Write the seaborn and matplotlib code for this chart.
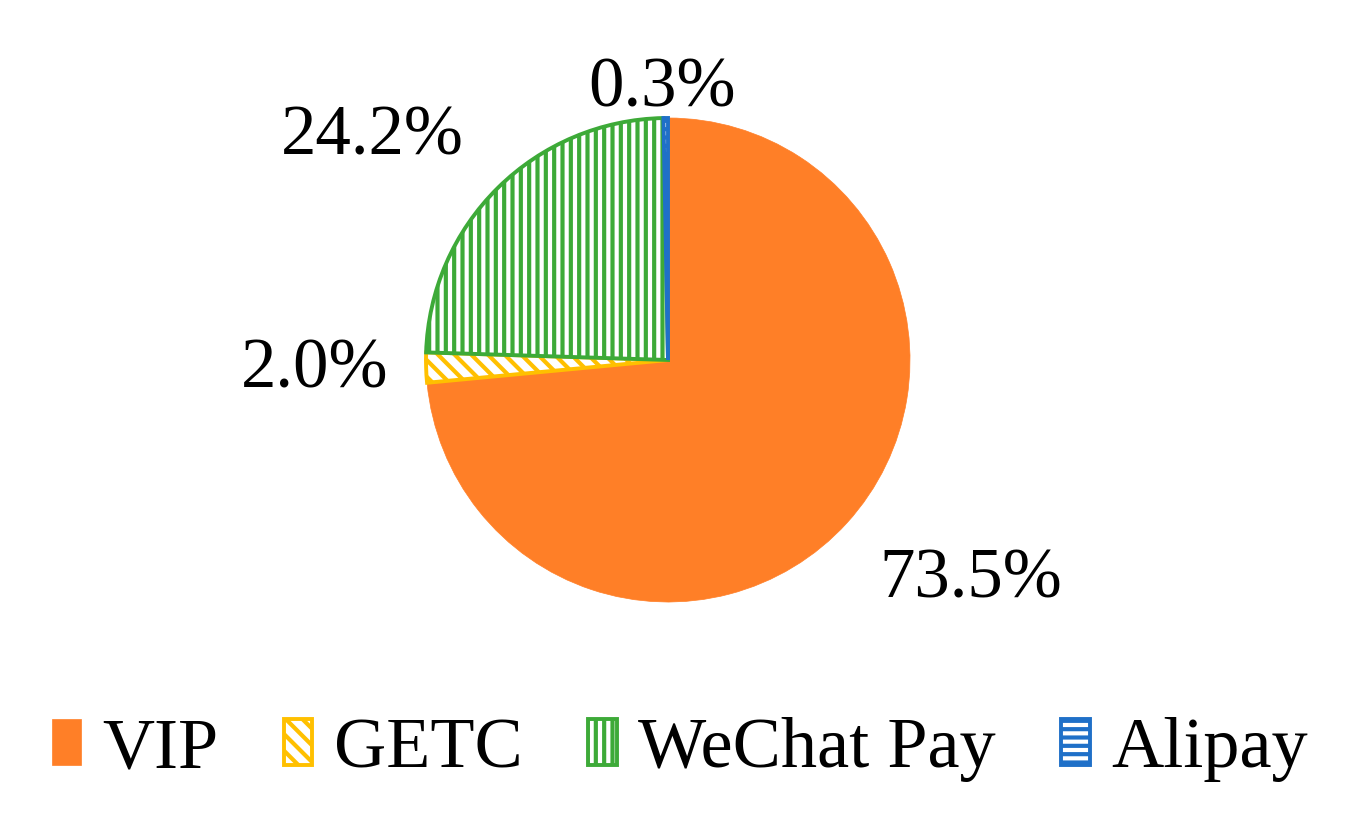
import matplotlib
matplotlib.use("Agg")
import matplotlib.pyplot as plt
import seaborn as sns

# data
categories = ["VIP", "GETC", "WeChat Pay", "Alipay"]
shares = [73.5, 2.0, 24.2, 0.3]
pct_labels = ["73.5%", "2.0%", "24.2%", "0.3%"]

colors = ["#FF7F27", "#FFC000", "#3DAA38", "#1F70C8"]
hatches = [None, "\\\\", "||", "--"]

sns.set_theme(style="white")
plt.rcParams["font.family"] = ["Liberation Serif", "DejaVu Serif"]
plt.rcParams["text.color"] = "black"
plt.rcParams["hatch.linewidth"] = 3.0

fig = plt.figure(figsize=(13.6, 8.4), dpi=100)
ax = fig.add_axes([368 / 1360, 180 / 840, 600 / 1360, 600 / 840])

wedges, _ = ax.pie(shares, startangle=90, counterclock=False, radius=1)
for w, c, h in zip(wedges, colors, hatches):
    if h is None:
        w.set_facecolor(c)
        w.set_edgecolor(c)
        w.set_linewidth(0.5)
    else:
        w.set_facecolor("white")
        w.set_edgecolor(c)
        w.set_hatch(h)
        w.set_linewidth(2.8)
        w.set_hatch_linewidth(3.0)

lim = 300 / 242
ax.set_xlim(-lim, lim)
ax.set_ylim(-lim, lim)
ax.axis("off")

# label placement (layout)
label_xy = [(1.25, -0.91), (-1.46, -0.04), (-1.22, 0.92), (-0.025, 1.12)]
for txt, (x, y) in zip(pct_labels, label_xy):
    ax.text(x, y, txt, ha="center", va="center", fontsize=51, color="black")

leg = fig.legend(wedges, categories, loc="center", bbox_to_anchor=(0.5, 90 / 840),
                 ncol=4, frameon=False, fontsize=52, handlelength=0.4,
                 handleheight=0.6, handletextpad=0.3, columnspacing=0.9)
for t in leg.get_texts():
    t.set_color("black")

fig.savefig("out.png", dpi=100)
